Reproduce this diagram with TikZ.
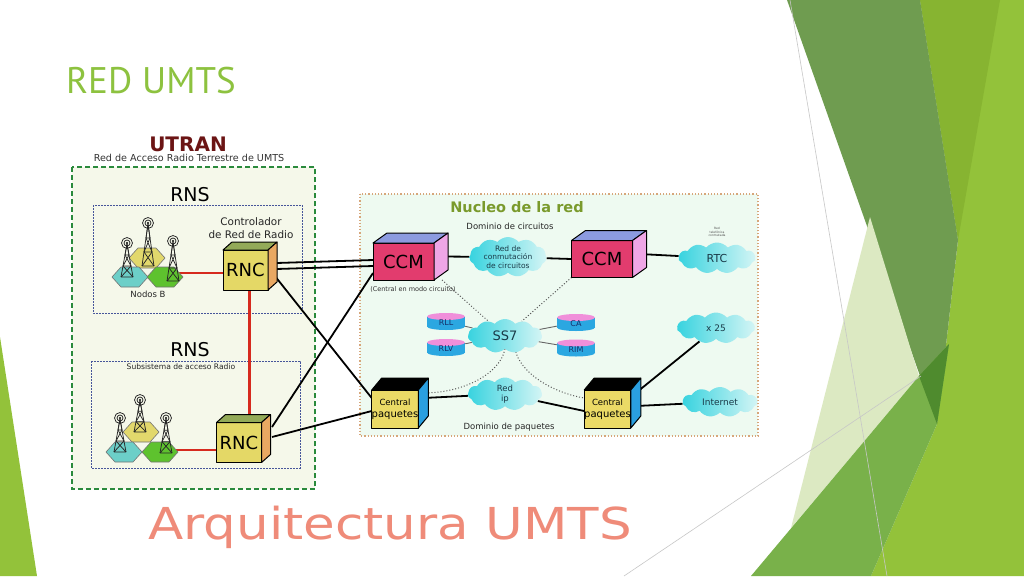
\documentclass[tikz,border=0pt]{standalone}
\usepackage{fontspec}
\setmainfont{DejaVu Sans}
\newfontfamily\titlefont{PT Sans}
\usetikzlibrary{positioning,shapes.symbols}
\pgfdeclarelayer{back}
\pgfdeclarelayer{lines}
\pgfsetlayers{back,lines,main}

\definecolor{titlegreen}{HTML}{8DC23F}
\definecolor{salmon}{HTML}{EF8B79}
\definecolor{utranred}{HTML}{6B1414}
\definecolor{utrangreen}{HTML}{2A8A3C}
\definecolor{utranfill}{HTML}{F5F8EA}
\definecolor{rnsblue}{HTML}{46559A}
\definecolor{coreline}{HTML}{D6A67A}
\definecolor{corefill}{HTML}{EEFAF1}
\definecolor{olivetext}{HTML}{7A9A2C}
\definecolor{rncfront}{HTML}{E4D866}
\definecolor{rnctop}{HTML}{93AA58}
\definecolor{rncside}{HTML}{E9A862}
\definecolor{ccmfront}{HTML}{E23C6E}
\definecolor{ccmtop}{HTML}{8C9BE0}
\definecolor{ccmside}{HTML}{EFA6E6}
\definecolor{cpfront}{HTML}{EBDA66}
\definecolor{cpside}{HTML}{2A9FE0}
\definecolor{redlink}{HTML}{D62A1E}
\definecolor{cloudL}{HTML}{38D3DF}
\definecolor{cloudR}{HTML}{D4F5F5}
\definecolor{cloudtext}{HTML}{1A3A48}
\definecolor{diskbody}{HTML}{2BA7E1}
\definecolor{disktop}{HTML}{F08FDA}
\definecolor{disktext}{HTML}{16306A}
\definecolor{hexcyan}{HTML}{6CCFC8}
\definecolor{hexyellow}{HTML}{E2D86C}
\definecolor{hexgreen}{HTML}{5EC22E}
\definecolor{facetA}{HTML}{6F9C50}
\definecolor{facetY}{HTML}{93C23A}
\definecolor{facetYd}{HTML}{87B431}
\definecolor{facetP}{HTML}{DCE9C2}
\definecolor{facetB}{HTML}{79B14A}
\definecolor{facetD}{HTML}{4F8B2E}

\newcommand\DrawCube[6]{%
  \node[cubefront,fill=#3] (#1) at #2 {#6};
  \filldraw[cubeface,fill=#4] (#1.north west) -- ++(\cubeDx,-\cubeDy) -- ++(\cubeW,0) -- (#1.north east) -- cycle;
  \filldraw[cubeface,fill=#5] (#1.north east) -- ++(\cubeDx,-\cubeDy) -- ++(0,\cubeH) -- (#1.south east) -- cycle;
  \path (#1.east) ++(\cubeDx/2,-\cubeDy/2) coordinate (#1-s);
  \path (#1.north) ++(\cubeDx/2,-\cubeDy/2) coordinate (#1-t);
}
\newcommand\DrawHex[3]{% centre x, centre y, colour
  \filldraw[fill=#3,draw=black!55,line width=0.6pt] (#1-18,#2) -- (#1-9,#2-10) -- (#1+9,#2-10)
    -- (#1+18,#2) -- (#1+9,#2+10) -- (#1-9,#2+10) -- cycle;
}
\newcommand\DrawTower[3]{% x, y of antenna, y of base
  \draw[tower] (#1,#2) circle (5.5) (#1,#2) circle (3);
  \fill (#1,#2) circle (1.2);
  \draw[tower] (#1,#2+1) -- (#1-6,#3) (#1,#2+1) -- (#1+6,#3);
  \foreach \i in {1,2,3}{
    \pgfmathsetmacro\ya{#2+1+(#3-#2-1)*(\i-1)/3}
    \pgfmathsetmacro\yb{#2+1+(#3-#2-1)*\i/3}
    \pgfmathsetmacro\wa{2*(\i-1)}
    \pgfmathsetmacro\wb{2*\i}
    \draw[tower] (#1-\wa,\ya) -- (#1+\wb,\yb) (#1+\wa,\ya) -- (#1-\wb,\yb) (#1-\wb,\yb) -- (#1+\wb,\yb);
  }
}
\newcommand\DrawDisk[4]{% name, x, y, text
  \fill[diskbody] (#2,#3+5) ellipse (19 and 3.5);
  \node[fill=diskbody,minimum width=38pt,minimum height=10pt] (#1) at (#2,#3) {};
  \fill[disktop] (#2,#3-5) ellipse (19 and 3.5);
  \node[font=\fontsize{8}{9}\selectfont,text=disktext] (#1-l) at (#2,#3+1.5) {#4};
}

\tikzset{%
  >=latex,
  every node/.style={inner sep=0pt},
  cubeface/.style={draw=black,line width=1pt,line join=round},
  cubefront/.style={cubeface,outer sep=0pt,align=center,
    minimum width=\cubeW pt,minimum height=\cubeH pt},
  link/.style={line width=1.8pt},
  redline/.style={draw=redlink,line width=2.6pt},
  graylink/.style={draw=black!60,line width=0.9pt},
  ss7link/.style={draw=black!65,line width=1pt,dotted},
  netcloud/.style={cloud,cloud puffs=11,cloud puff arc=100,cloud ignores aspect,
    left color=cloudL,right color=cloudR,align=center,text=cloudtext},
  tower/.style={draw=black!85,line width=0.75pt},
  facetline/.style={draw=black!22,line width=0.6pt}
}

\begin{document}
\begin{tikzpicture}[x=1pt,y=-1pt]
\useasboundingbox (0,0) rectangle (1024,576);

\begin{pgfonlayer}{back}
  \fill[white] (0,0) rectangle (1024,576);
  % facets of the slide
  \fill[facetY] (920,0) -- (1024,0) -- (1024,576) -- (871,576) -- (937,424) -- (958,240) -- cycle;
  \fill[facetYd] (920,0) -- (1000,0) -- (958,240) -- cycle;
  \fill[facetA] (787,0) -- (920,0) -- (958,240) -- (937,424) -- cycle;
  \fill[facetP] (870,217) -- (919,376) -- (791,528) -- cycle;
  \fill[facetB] (751,576) -- (919,376) -- (949,344) -- (937,424) -- (871,576) -- cycle;
  \fill[facetD] (919,376) -- (949,344) -- (937,424) -- cycle;
  \fill[facetY] (0,337) -- (37,576) -- (0,576) -- cycle;
  \draw[facetline] (624,576) -- (921,376);
  \draw[facetline] (790,0) -- (887,576);
  % frames
  \filldraw[fill=utranfill,draw=utrangreen,line width=2.6pt,dash pattern=on 5pt off 3pt] (72,167) rectangle (315,489);
  \draw[rnsblue,line width=1pt,dash pattern=on 1.6pt off 1.4pt] (93,205) rectangle (302,313);
  \draw[rnsblue,line width=1pt,dash pattern=on 1.6pt off 1.4pt] (91,361) rectangle (300,468);
  \filldraw[fill=corefill,draw=coreline,line width=1.2pt,dash pattern=on 1.2pt off 2pt] (360,194) rectangle (758,436);
\end{pgfonlayer}

% titles
\node[font=\titlefont\fontsize{37}{40}\selectfont,text=titlegreen,anchor=base west] (title) at (66,93) {RED UMTS};
\node[font=\fontsize{44}{48}\selectfont,text=salmon] (subtitle) at (390,527) {\scalebox{1.17}[1]{Arquitectura UMTS}};

% UTRAN
\node[font=\bfseries\fontsize{20}{22}\selectfont,text=utranred] (utran) at (188,144) {UTRAN};
\node[font=\fontsize{9.6}{11}\selectfont,text=black!80] (utranlbl) at (189,158) {Red de Acceso Radio Terrestre de UMTS};
\node[font=\fontsize{19}{20}\selectfont] (rnsA) at (190,195) {RNS};
\node[font=\fontsize{10.4}{12.4}\selectfont,align=center,text=black!85] (ctrl) at (251,228) {Controlador\\de Red de Radio};
\node[font=\fontsize{19}{20}\selectfont] (rnsB) at (190,350) {RNS};
\node[font=\fontsize{7.6}{9}\selectfont,text=black!85] (subsis) at (181,367) {Subsistema de acceso Radio};

\DrawHex{147}{258}{hexyellow}
\DrawHex{130}{277}{hexcyan}
\DrawHex{165}{277}{hexgreen}
\DrawTower{127}{243}{277}
\DrawTower{148}{223}{266}
\DrawTower{173}{241}{281}
\coordinate (nbA) at (178,273);
\node[font=\fontsize{8.5}{10}\selectfont,text=black!85] (nodosB) at (148,294) {Nodos B};

\DrawHex{141}{432}{hexyellow}
\DrawHex{124}{452}{hexcyan}
\DrawHex{160}{452}{hexgreen}
\DrawTower{120}{418}{452}
\DrawTower{140}{400}{432}
\DrawTower{166}{418}{453}
\coordinate (nbB) at (172,450);

\def\cubeW{45}\def\cubeH{40}\def\cubeDx{9}\def\cubeDy{8}
\DrawCube{rnc1}{(245.5,270)}{rncfront}{rnctop}{rncside}{\fontsize{18}{20}\selectfont RNC}
\DrawCube{rnc2}{(239,442.5)}{rncfront}{rnctop}{rncside}{\fontsize{18}{20}\selectfont RNC}

% Nucleo de la red
\node[font=\bfseries\fontsize{14.5}{16}\selectfont,text=olivetext] (nucleo) at (517,207) {Nucleo de la red};
\node[font=\fontsize{8.5}{10}\selectfont,text=black!85] (domcirc) at (510,226) {Dominio de circuitos};
\node[font=\fontsize{8.5}{10}\selectfont,text=black!85] (dompaq) at (509,427) {Dominio de paquetes};

\def\cubeW{61}\def\cubeH{37}\def\cubeDx{14}\def\cubeDy{10}
\DrawCube{ccm1}{(403.5,261.5)}{ccmfront}{ccmtop}{ccmside}{\fontsize{18}{20}\selectfont CCM}
\DrawCube{ccm2}{(602,259)}{ccmfront}{ccmtop}{ccmside}{\fontsize{18}{20}\selectfont CCM}
\node[font=\fontsize{6.5}{8}\selectfont,text=black!80] (ccmlbl) at (413,289) {(Central en modo circuito)};

\def\cubeW{46}\def\cubeH{38}\def\cubeDx{10}\def\cubeDy{12}
\DrawCube{cp1}{(395,409)}{cpfront}{black}{cpside}{\fontsize{8.5}{10}\selectfont Central\\paquetes}
\DrawCube{cp2}{(607.5,409)}{cpfront}{black}{cpside}{\fontsize{8.5}{10}\selectfont Central\\paquetes}

\node[netcloud,minimum width=77pt,minimum height=31pt,font=\fontsize{7.5}{8.5}\selectfont] (cc) at (508,257) {Red de\\conmutación\\de circuitos};
\node[netcloud,minimum width=77pt,minimum height=31pt,font=\fontsize{11}{12}\selectfont] (rtc) at (717,258) {RTC};
\node[font=\fontsize{3}{3.5}\selectfont,align=center,text=black!70] (rtclbl) at (717,232) {Red\\telefónica\\conmutada};
\node[netcloud,minimum width=74pt,minimum height=34pt,font=\fontsize{13}{14}\selectfont] (ss7) at (505,336) {SS7};
\node[netcloud,minimum width=74pt,minimum height=33pt,font=\fontsize{8.5}{10}\selectfont] (redip) at (505,394) {Red\\ip};
\node[netcloud,minimum width=78pt,minimum height=31pt,font=\fontsize{9}{10}\selectfont] (x25) at (716,328) {x 25};
\node[netcloud,minimum width=75pt,minimum height=30pt,font=\fontsize{9}{10}\selectfont] (inet) at (720,402) {Internet};

\DrawDisk{rll}{446}{321.5}{RLL}
\DrawDisk{rlv}{446}{347.5}{RLV}
\DrawDisk{ca}{576}{322.5}{CA}
\DrawDisk{rim}{576}{348}{RIM}

\begin{pgfonlayer}{lines}
  \draw[redline] (nbA) -- (nbA -| rnc1.west);
  \draw[redline] (nbB) -- (nbB -| rnc2.west);
  \draw[redline] ([xshift=4pt]rnc1.south) -- ([xshift=4pt]rnc1.south |- rnc2-t);
  \draw[link] ([xshift=4pt,yshift=3pt]rnc1-s) -- ([yshift=1.5pt]ccm1.west);
  \draw[link] ([xshift=4pt,yshift=-3pt]rnc1-s) -- ([yshift=-4.5pt]ccm1.west);
  \draw[link] ([xshift=4pt,yshift=-12pt]rnc1-s) -- ([yshift=11pt]cp1.west);
  \draw[link] ([xshift=6pt,yshift=11.5pt]rnc2-s) -- ([yshift=-11.5pt]ccm1.west);
  \draw[link] ([xshift=6pt,yshift=1.5pt]rnc2-s) -- ([yshift=-2pt]cp1.west);
  \draw[link] (ccm1-s) -- (cc);
  \draw[link] (cc) -- (ccm2.west);
  \draw[link] (ccm2-s) -- (rtc);
  \draw[link] ([yshift=5pt]cp1-s) -- (redip);
  \draw[link] (redip) -- ([yshift=-2pt]cp2.west);
  \draw[link] ([yshift=10pt]cp2-s) -- (x25);
  \draw[link] ([yshift=-3pt]cp2-s) -- (inet);
  \draw[graylink] (rll) -- (ss7);
  \draw[graylink] (rlv) -- (ss7);
  \draw[graylink] (ca) -- (ss7);
  \draw[graylink] (rim) -- (ss7);
  \draw[ss7link] ([xshift=8pt]ccm1.south east) -- (ss7);
  \draw[ss7link] (ccm2.south west) -- (ss7);
  \draw[ss7link] (ss7.south) .. controls +(-5,25) and +(40,0) .. ([yshift=10pt]cp1-s);
  \draw[ss7link] ([xshift=10pt]ss7.south) .. controls +(5,25) and +(-30,-5) .. ([yshift=-8pt]cp2.north west);
\end{pgfonlayer}
\end{tikzpicture}
\end{document}
